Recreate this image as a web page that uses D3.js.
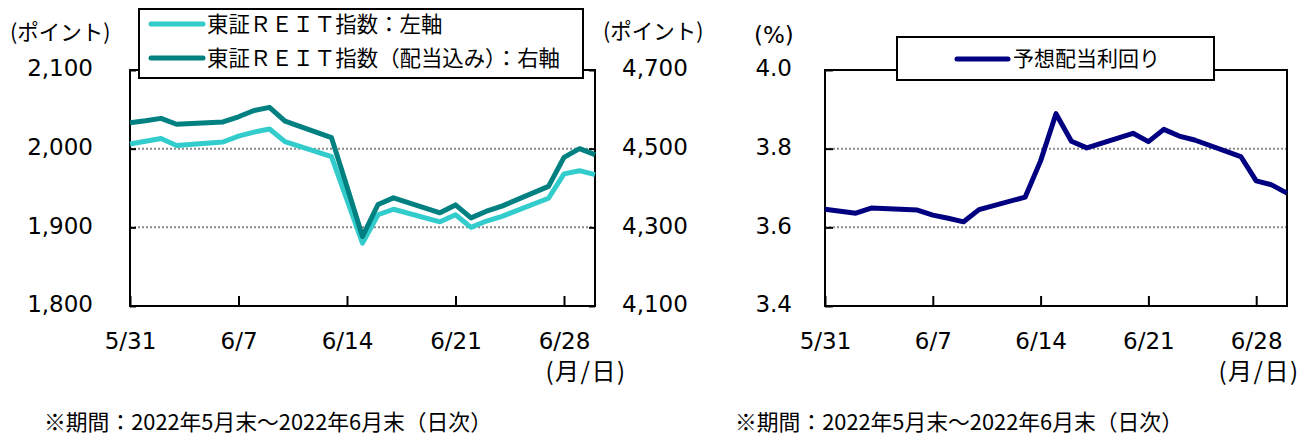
<!DOCTYPE html>
<html><head><meta charset="utf-8">
<script src="https://cdn.jsdelivr.net/npm/d3@7"></script>
<style>
body{margin:0;background:#fff;}
svg{display:block;}
.num{font-family:"DejaVu Sans","Noto Sans CJK JP",sans-serif;font-size:23px;fill:#000;}
.jp{font-family:"Noto Sans CJK JP","DejaVu Sans",sans-serif;fill:#000;}
</style></head>
<body><svg id="c" width="1302" height="437"></svg>
<script>
// ---- data ----
const dates = ["2022-05-31","2022-06-01","2022-06-02","2022-06-03","2022-06-06","2022-06-07","2022-06-08","2022-06-09","2022-06-10",
  "2022-06-13","2022-06-14","2022-06-15","2022-06-16","2022-06-17","2022-06-20","2022-06-21","2022-06-22","2022-06-23","2022-06-24",
  "2022-06-27","2022-06-28","2022-06-29","2022-06-30"];
const reitIndex = [2006,2009.5,2013,2004,2008.5,2016,2021,2025,2009,1990,1935,1880,1916,1923,1907,1916,1900,1908,1914,1937,1968,1972,1967];
const reitIndexTR = [4566,4571,4577,4562,4568,4581,4597,4605,4570,4528,4403,4277,4358,4375,4337,4357,4324,4341,4354,4404,4478,4500,4485];
const divYield = [3.646,3.641,3.636,3.649,3.644,3.631,3.623,3.614,3.645,3.677,3.769,3.889,3.819,3.802,3.839,3.818,3.849,3.832,3.822,3.780,3.718,3.708,3.687];
const xTickDates = ["2022-05-31","2022-06-07","2022-06-14","2022-06-21","2022-06-28"];
const leftTicks = [1800,1900,2000,2100];
const rightTicks = [4100,4300,4500,4700];
const yieldTicks = [3.4,3.6,3.8,4.0];
const legendLeft = ["東証ＲＥＩＴ指数：左軸","東証ＲＥＩＴ指数（配当込み）：右軸"];
const legendRight = ["予想配当利回り"];
const footnote = "※期間：2022年5月末～2022年6月末（日次）";

const parse = d3.timeParse("%Y-%m-%d");
const D = dates.map(parse);
const XT = xTickDates.map(parse);
const fmtDate = d3.timeFormat("%-m/%-d");
const svg = d3.select("#c");
const COL_LIGHT="#33CCCC", COL_DARK="#008080", COL_NAVY="#000080";

function grid(g, x0,x1, gridVals, yScale){
  g.selectAll(".grid").data(gridVals).enter().append("line")
    .attr("x1",x0).attr("x2",x1).attr("y1",d=>yScale(d)).attr("y2",d=>yScale(d))
    .attr("stroke","#8a8a8a").attr("stroke-width",2).attr("stroke-dasharray","2,2");
}
function styleAxis(sel){
  sel.select(".domain").remove();
  sel.selectAll(".tick line").attr("stroke","#000").attr("stroke-width",2);
  sel.selectAll(".tick text").attr("class","num").attr("fill","#000");
}

// ===== Left chart =====
{
  const L=130,R=595,T=70,B=306;
  const x = d3.scaleTime().domain([D[0],D[D.length-1]]).range([L,R]);
  const yL = d3.scaleLinear().domain([1800,2100]).range([B,T]);
  const yR = d3.scaleLinear().domain([4100,4700]).range([B,T]);
  const g = svg.append("g");
  grid(g,L,R,[1900,2000],yL);
  const ax = g.append("g").attr("transform",`translate(0,${B})`)
    .call(d3.axisBottom(x).tickValues(XT).tickFormat(fmtDate).tickSizeInner(-10).tickSizeOuter(0).tickPadding(27));
  styleAxis(ax);
  const ay = g.append("g").attr("transform",`translate(${L},0)`)
    .call(d3.axisLeft(yL).tickValues(leftTicks).tickFormat(d3.format(",")).tickSizeInner(-6).tickSizeOuter(0).tickPadding(37));
  styleAxis(ay); ay.selectAll(".tick text").attr("dy","0.25em");
  const ay2 = g.append("g").attr("transform",`translate(${R},0)`)
    .call(d3.axisRight(yR).tickValues(rightTicks).tickFormat(d3.format(",")).tickSizeInner(-6).tickSizeOuter(0).tickPadding(27));
  styleAxis(ay2); ay2.selectAll(".tick text").attr("dy","0.25em");
  g.append("rect").attr("x",L).attr("y",T).attr("width",R-L).attr("height",B-T)
    .attr("fill","none").attr("stroke","#000").attr("stroke-width",2);
  const lineL = d3.line().x((d,i)=>x(D[i])).y(d=>yL(d));
  const lineR = d3.line().x((d,i)=>x(D[i])).y(d=>yR(d));
  g.append("path").datum(reitIndex).attr("d",lineL).attr("fill","none").attr("stroke",COL_LIGHT).attr("stroke-width",5).attr("stroke-linejoin","round");
  g.append("path").datum(reitIndexTR).attr("d",lineR).attr("fill","none").attr("stroke",COL_DARK).attr("stroke-width",5).attr("stroke-linejoin","round");
  // legend
  const lg = g.append("g");
  lg.append("rect").attr("x",139).attr("y",9).attr("width",444).attr("height",69)
    .attr("fill","#fff").attr("stroke","#000").attr("stroke-width",2);
  [COL_LIGHT,COL_DARK].forEach((c,i)=>{
    const yy = 24 + i*34;
    lg.append("line").attr("x1",151).attr("x2",203).attr("y1",yy).attr("y2",yy)
      .attr("stroke",c).attr("stroke-width",5).attr("stroke-linecap","round");
    lg.append("text").attr("class","jp").attr("x",207).attr("y",yy+8).attr("font-size","21.4px").text(legendLeft[i]);
  });
  g.append("text").attr("class","jp").attr("x",10).attr("y",40).attr("font-size","21.5px").text("(ポイント)");
  g.append("text").attr("class","jp").attr("x",603).attr("y",39).attr("font-size","21.5px").text("(ポイント)");
  g.append("text").attr("class","jp").attr("x",586).attr("y",380).attr("text-anchor","middle").attr("font-size","24px").attr("letter-spacing","1.5px").text("(月/日)");
  g.append("text").attr("class","jp").attr("x",44).attr("y",430).attr("font-size","21.8px").text(footnote);
}

// ===== Right chart =====
{
  const L=825,R=1287,T=70,B=306;
  const x = d3.scaleTime().domain([D[0],D[D.length-1]]).range([L,R]);
  const y = d3.scaleLinear().domain([3.4,4.0]).range([B,T]);
  const g = svg.append("g");
  grid(g,L,R,[3.6,3.8],y);
  const ax = g.append("g").attr("transform",`translate(0,${B})`)
    .call(d3.axisBottom(x).tickValues(XT).tickFormat(fmtDate).tickSizeInner(-10).tickSizeOuter(0).tickPadding(27));
  styleAxis(ax);
  const ay = g.append("g").attr("transform",`translate(${L},0)`)
    .call(d3.axisLeft(y).tickValues(yieldTicks).tickFormat(d3.format(".1f")).tickSizeInner(-8).tickSizeOuter(0).tickPadding(33));
  styleAxis(ay); ay.selectAll(".tick text").attr("dy","0.25em");
  g.append("rect").attr("x",L).attr("y",T).attr("width",R-L).attr("height",B-T)
    .attr("fill","none").attr("stroke","#000").attr("stroke-width",2);
  const line = d3.line().x((d,i)=>x(D[i])).y(d=>y(d));
  g.append("path").datum(divYield).attr("d",line).attr("fill","none").attr("stroke",COL_NAVY).attr("stroke-width",5).attr("stroke-linejoin","round");
  const lg = g.append("g");
  lg.append("rect").attr("x",897).attr("y",37).attr("width",317).attr("height",43)
    .attr("fill","#fff").attr("stroke","#000").attr("stroke-width",2);
  lg.append("line").attr("x1",957).attr("x2",1008).attr("y1",59).attr("y2",59)
    .attr("stroke",COL_NAVY).attr("stroke-width",5).attr("stroke-linecap","round");
  lg.append("text").attr("class","jp").attr("x",1013).attr("y",66).attr("font-size","21px").text(legendRight[0]);
  g.append("text").attr("class","num").attr("x",754).attr("y",43).text("(%)");
  g.append("text").attr("class","jp").attr("x",1259).attr("y",380).attr("text-anchor","middle").attr("font-size","24px").attr("letter-spacing","1.5px").text("(月/日)");
  g.append("text").attr("class","jp").attr("x",735).attr("y",430).attr("font-size","21.8px").text(footnote);
}
</script></body></html>
